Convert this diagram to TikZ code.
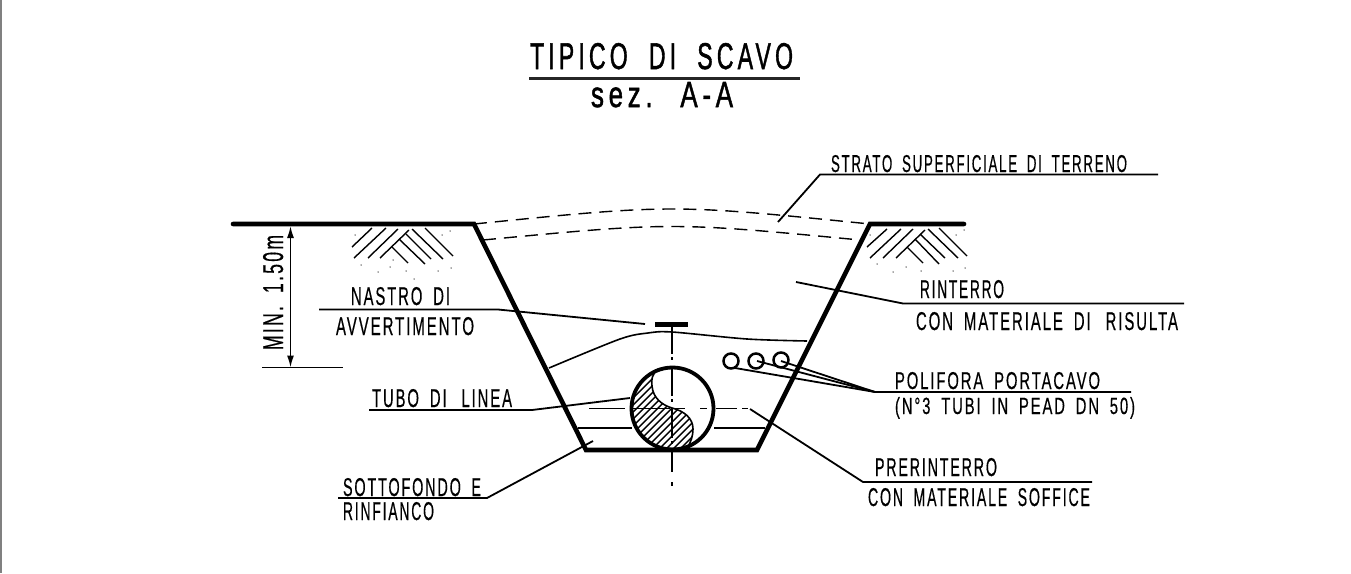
\documentclass[tikz,border=0pt]{standalone}
\usepackage{fontspec}
\usetikzlibrary{arrows.meta}
\newfontfamily\cadfont[LetterSpace=13,FakeBold=0.6,WordSpace=1.8]{Liberation Sans}
\newfontfamily\cadtitlefont[LetterSpace=18,FakeBold=1.6,WordSpace=2]{Liberation Sans}
\newcommand{\cadtext}[3]{\resizebox{#1pt}{#2pt}{\cadfont #3}}
\newcommand{\cadtitle}[3]{\resizebox{#1pt}{#2pt}{\cadtitlefont #3}}
\tikzset{
  lbl/.style={anchor=base west,inner sep=0pt,outer sep=0pt,text=black},
  heavy/.style={line width=4.6pt,line cap=round,line join=miter},
  thin line/.style={line width=1.6pt},
  rule/.style={line width=1.8pt},
  hatchline/.style={line width=1.4pt},
  dashline/.style={line width=1.4pt,dash pattern=on 13pt off 8pt},
  axis/.style={line width=1.6pt},
  dot/.style={circle,fill=black!70,inner sep=0pt,minimum size=1.5pt}
}
\begin{document}
\begin{tikzpicture}[x=1pt,y=-1pt]
\useasboundingbox (0,0) rectangle (1351,573);
\draw[line width=2pt,black!50] (0.6,0) -- (0.6,573);
% title
\node[lbl] (title) at (530,69) {\cadtitle{263}{26}{TIPICO DI SCAVO}};
\coordinate (titleL) at (529,78.5); \coordinate (titleR) at (800,78.5);
\draw[line width=2.2pt,black!85] (titleL) -- (titleR);
\node[lbl] (subtitle) at (591,107) {\cadtitle{142}{25}{sez. A-A}};
% trench
\coordinate (gl0) at (233,224); \coordinate (tl) at (474,224);
\coordinate (bl) at (586,450); \coordinate (br) at (757,450);
\coordinate (tr) at (870,224); \coordinate (gr0) at (964,224);
\draw[heavy] (gl0) -- (tl) -- (bl) -- (br) -- (tr) -- (gr0);
% surface dashed arcs
\coordinate (u1) at (474,224); \coordinate (u2) at (870,224);
\coordinate (l1) at (483,240); \coordinate (l2) at (860,240);
\draw[dashline] (u1) .. controls (672,204) .. (u2);
\draw[dashline] (l1) .. controls (672,222) .. (l2);
% backfill line
\draw[thin line] plot[smooth,tension=0.5] coordinates {(549,368) (620,339) (648,333) (672,332) (747,339) (807,341)};
% bedding line
\draw[thin line] (578,428) -- (632,428);
\draw[thin line] (714,428) -- (765,428);
% pipe hatch
\begin{scope}
\clip (672.5,408.5) circle (41);
\clip (600,355) -- (658,369) .. controls (652,374) and (651,380) .. (652,386)
  .. controls (653,398) and (662,405) .. (672,408)
  .. controls (684,411) and (693,418) .. (693,429)
  .. controls (693,436) and (691,442) .. (687,448) -- (600,470) -- cycle;
\foreach \i in {540,547,...,760} \draw[hatchline] (\i,470) -- (\i+120,350);
\end{scope}
\draw[line width=1.6pt] (658,369) .. controls (652,374) and (651,380) .. (652,386)
  .. controls (653,398) and (662,405) .. (672,408)
  .. controls (684,411) and (693,418) .. (693,429)
  .. controls (693,436) and (691,442) .. (687,448);
\node[circle,draw,line width=3.8pt,inner sep=0pt,minimum size=82pt] (pipe) at (672.5,408.5) {};
% axes
\draw[axis,dash pattern=on 29pt off 3pt on 3pt off 7pt] (672,325) -- (672,445);
\draw[axis] (672,450) -- (672,472);
\draw[axis] (672,482) -- (672,486);
\foreach \a/\b in {589/625,630/670,673/685,700/707,716/737,742/748}
  \draw[axis] (\a,408.5) -- (\b,408.5);
% warning tape
\coordinate (tapeL) at (655,324.5); \coordinate (tapeR) at (688,324.5);
\draw[line width=5.6pt] (tapeL) -- (tapeR);
% conduits
\node[circle,draw,line width=2.5pt,inner sep=0pt,minimum size=15pt] (c1) at (731,361) {};
\node[circle,draw,line width=2.5pt,inner sep=0pt,minimum size=15pt] (c2) at (756,361) {};
\node[circle,draw,line width=2.5pt,inner sep=0pt,minimum size=15pt] (c3) at (781,360) {};
% soil hatching
\foreach \a/\b/\c/\d in {352/247/372/228,354/258/386/228,368/258/398/229,380/258/409/230,
  392/247/408/263,399/239/425/264,406/234/431/259,412/229/443/259,425/228/453/256,
  867/247/887/229,870/258/901/229,883/258/913/229,896/258/925/230,
  907/247/923/263,915/239/939/264,920/234/945/258,928/229/958/258,939/228/967/256}
  \draw[hatchline] (\a,\b) -- (\c,\d);
\foreach \x/\y in {355/235,442/235,450/231,361/265,393/260,390/267,378/272,406/271,438/271,451/268,414/279,
  870/235,964/230,956/235,877/264,906/267,893/272,921/271,953/271,965/268}
  \node[dot] at (\x,\y) {};
% dimension
\coordinate (dimT) at (290.5,226); \coordinate (dimB) at (290.5,367.5);
\draw[line width=1.6pt,{Latex[length=12pt,width=7pt]}-{Latex[length=12pt,width=7pt]}] (dimT) -- (dimB);
\coordinate (extL) at (262,367.5); \coordinate (extR) at (343,367.5);
\draw[rule] (extL) -- (extR);
\node[lbl,rotate=90] (dim) at (283,350) {\cadtext{115}{20}{MIN. 1.50m}};
% STRATO
\node[lbl] (strato) at (831,172) {\cadtext{296}{17}{STRATO SUPERFICIALE DI TERRENO}};
\coordinate (s0) at (778,222); \coordinate (s1) at (820,174.5); \coordinate (s2) at (1158,174.5);
\draw[rule] (s0) -- (s1) -- (s2);
% NASTRO
\node[lbl] (nastro) at (351,305) {\cadtext{99}{18}{NASTRO DI}};
\node[lbl] (avv) at (336,335) {\cadtext{138}{18}{AVVERTIMENTO}};
\coordinate (n0) at (319,309.5); \coordinate (n1) at (498,309.5); \coordinate (n2) at (645,324);
\draw[rule] (n0) -- (n1) -- (n2);
% RINTERRO
\node[lbl] (rint) at (920,298) {\cadtext{84}{18}{RINTERRO}};
\node[lbl] (risulta) at (916,330) {\cadtext{262}{18}{CON MATERIALE DI\quad RISULTA}};
\coordinate (r0) at (796,282); \coordinate (r1) at (903,303.5); \coordinate (r2) at (1184,303.5);
\draw[rule] (r0) -- (r1) -- (r2);
% POLIFORA
\node[lbl] (poli) at (895,389) {\cadtext{205}{17}{POLIFORA PORTACAVO}};
\node[lbl] (tubi) at (895,414) {\cadtext{240}{17}{(N°3 TUBI IN PEAD DN 50)}};
\coordinate (p0) at (875,392); \coordinate (p1) at (1131,392);
\coordinate (pa) at (735,368); \coordinate (pb) at (757,361); \coordinate (pc) at (781,361);
\draw[rule] (pa) -- (p0) -- (p1);
\draw[rule] (pb) -- (p0);
\draw[rule] (pc) -- (p0);
% TUBO
\node[lbl] (tubo) at (372,407) {\cadtext{140}{18}{TUBO DI\quad LINEA}};
\coordinate (t0) at (369,410); \coordinate (t1) at (532,410); \coordinate (t2) at (630,398);
\draw[rule] (t0) -- (t1) -- (t2);
% SOTTOFONDO
\node[lbl] (sott) at (343,496) {\cadtext{138}{18}{SOTTOFONDO E}};
\node[lbl] (rinf) at (343,520) {\cadtext{91}{18}{RINFIANCO}};
\coordinate (b0) at (338,498); \coordinate (b1) at (487,498); \coordinate (b2) at (593,441);
\draw[rule] (b0) -- (b1) -- (b2);
% PRERINTERRO
\node[lbl] (prer) at (875,476) {\cadtext{122}{18}{PRERINTERRO}};
\node[lbl] (soff) at (868,506) {\cadtext{222}{18}{CON MATERIALE SOFFICE}};
\coordinate (f0) at (750,409); \coordinate (f1) at (863,482); \coordinate (f2) at (1092,482);
\draw[rule] (f0) -- (f1) -- (f2);
\end{tikzpicture}
\end{document}
